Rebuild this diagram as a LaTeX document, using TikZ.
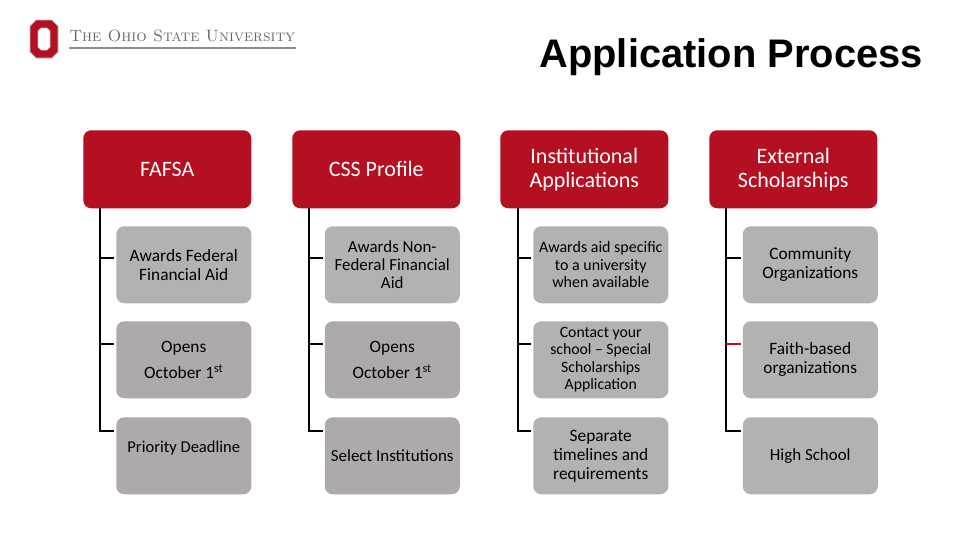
\documentclass[tikz,border=0pt]{standalone}
\usepackage{fontspec}
\newfontfamily\boxfont{Carlito}
\newfontfamily\headfont{Liberation Sans}
\usetikzlibrary{calc}
\definecolor{osured}{HTML}{B41021}
\definecolor{boxgray}{HTML}{B2B2B1}
\definecolor{warmgray}{HTML}{AEAAA9}
\definecolor{logogray}{HTML}{63686A}

\begin{document}
\begin{tikzpicture}[
  x=.75pt,y=-.75pt,
  head/.style={anchor=north west,fill=osured,text=white,rounded corners=6pt,inner sep=0pt,
    minimum width=126pt,minimum height=58.5pt,align=center,font=\boxfont\fontsize{16.5}{18}\selectfont},
  item/.style={anchor=north west,fill=boxgray,text=black,rounded corners=6pt,inner sep=0pt,
    minimum width=101.25pt,minimum height=57.75pt,align=center,font=\boxfont\fontsize{13}{14.25}\selectfont},
  warm/.style={fill=warmgray},
  wire/.style={draw=black,line width=1.5pt}
]
\useasboundingbox (0,0) rectangle (960,540);

% Logo and title
\fill[osured,draw=black!25,line width=.6pt] (36,20) -- (52,20) -- (58,26) -- (58,52) -- (52,58) -- (36,58) -- (30,52) -- (30,26) -- cycle;
\fill[white,draw=black!25,line width=.6pt] (41,28) -- (47,28) -- (50,31) -- (50,47) -- (47,50) -- (41,50) -- (38,47) -- (38,31) -- cycle;
\node[anchor=west,inner sep=0pt,text=logogray,font=\fontsize{12.3}{15}\selectfont\scshape\addfontfeature{FakeBold=.6}] (logotext) at (69,36) {The Ohio State University};
\draw[black!45,line width=.8pt] (69,48) -- (296,48);
\node[anchor=east,inner sep=0pt,font=\headfont\bfseries\fontsize{29.9}{32}\selectfont] (title) at (923,57) {Application Process};

% First column
\node[head] (fafsa) at (83,130) {FAFSA};
\node[item] (fafsaA) at (116,226) {Awards Federal\\Financial Aid};
\node[item,warm] (fafsaB) at (116,321) {Opens\\[5.5pt]October 1\textsuperscript{st}};
\node[item,warm,font=\boxfont\fontsize{12.4}{13}\selectfont] (fafsaC) at (116,417) {Priority Deadline\\[0pt]\mbox{}};
\coordinate (fafsaT) at (100,208);
\draw[wire] (fafsaT) |- ([shift={(-2,-6.5)}]fafsaA.west);
\draw[wire] (fafsaT) |- ([shift={(-2,-16)}]fafsaB.west);
\draw[wire] (fafsaT) |- ([shift={(-2,-24.5)}]fafsaC.west);

% Second column
\node[head] (css) at (292,130) {CSS Profile};
\node[item,font=\boxfont\fontsize{12.7}{13.8}\selectfont] (cssA) at (324.5,226) {Awards Non-\\Federal Financial\\Aid};
\node[item,warm] (cssB) at (324.5,321) {Opens\\[5.5pt]October 1\textsuperscript{st}};
\node[item,warm,font=\boxfont\fontsize{12.7}{14}\selectfont] (cssC) at (324.5,417) {Select Institutions};
\coordinate (cssT) at (309,208);
\draw[wire] (cssT) |- ([shift={(-2,-6.5)}]cssA.west);
\draw[wire] (cssT) |- ([shift={(-2,-16)}]cssB.west);
\draw[wire] (cssT) |- ([shift={(-2,-24.5)}]cssC.west);

% Third column
\node[head] (inst) at (500,130) {Institutional\\Applications};
\node[item,font=\boxfont\fontsize{12}{13.1}\selectfont] (instA) at (533,226) {Awards aid specific\\to a university\\when available};
\node[item,font=\boxfont\fontsize{11.8}{13}\selectfont] (instB) at (533,321) {Contact your\\school – Special\\Scholarships\\Application};
\node[item] (instC) at (533,417) {Separate\\timelines and\\requirements};
\coordinate (instT) at (518,208);
\draw[wire] (instT) |- ([shift={(-2,-6.5)}]instA.west);
\draw[wire] (instT) |- ([shift={(-2,-16)}]instB.west);
\draw[wire] (instT) |- ([shift={(-2,-24.5)}]instC.west);

% Fourth column
\node[head] (ext) at (709,130) {External\\Scholarships};
\node[item] (extA) at (742.5,226) {Community\\Organizations};
\node[item] (extB) at (742.5,321) {Faith-based\\organizations};
\node[item,font=\boxfont\fontsize{12.7}{14}\selectfont] (extC) at (742.5,417) {High School};
\coordinate (extT) at (726,208);
\draw[wire] (extT) |- ([shift={(-2,-24.5)}]extC.west);
\draw[wire] (extT) |- ([shift={(-2,-6.5)}]extA.west);
\draw[wire,draw=osured] (extT |- extB.west) ++(0,-16) -- ([shift={(-2,-16)}]extB.west);
\end{tikzpicture}
\end{document}
